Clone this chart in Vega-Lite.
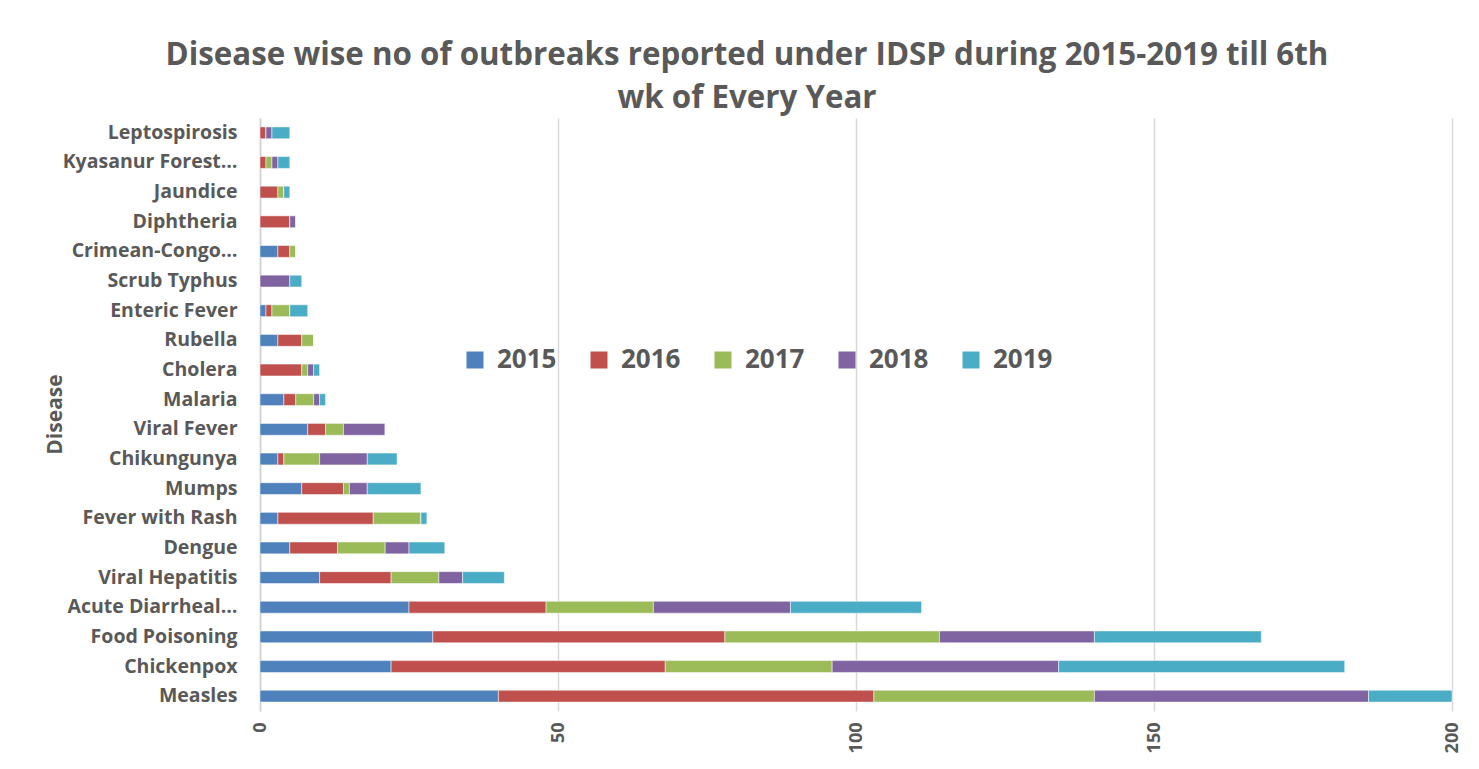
{
  "$schema": "https://vega.github.io/schema/vega-lite/v6.json",
  "width": 1192,
  "height": 593,
  "autosize": {"type": "none"},
  "padding": {"left": 260, "top": 118, "right": 27, "bottom": 58},
  "background": "white",
  "title": {
    "text": ["Disease wise no of outbreaks reported under IDSP during 2015-2019 till 6th", "wk of Every Year"],
    "font": "Open Sans",
    "fontSize": 31.3,
    "fontWeight": "bold",
    "color": "#595959",
    "anchor": "middle",
    "frame": "group",
    "dx": -109,
    "lineHeight": 43,
    "offset": 4
  },
  "data": {
    "values": [
      {"disease": "Leptospirosis", "year": "2015", "count": 0},
      {"disease": "Leptospirosis", "year": "2016", "count": 1},
      {"disease": "Leptospirosis", "year": "2017", "count": 0},
      {"disease": "Leptospirosis", "year": "2018", "count": 1},
      {"disease": "Leptospirosis", "year": "2019", "count": 3},
      {"disease": "Kyasanur Forest…", "year": "2015", "count": 0},
      {"disease": "Kyasanur Forest…", "year": "2016", "count": 1},
      {"disease": "Kyasanur Forest…", "year": "2017", "count": 1},
      {"disease": "Kyasanur Forest…", "year": "2018", "count": 1},
      {"disease": "Kyasanur Forest…", "year": "2019", "count": 2},
      {"disease": "Jaundice", "year": "2015", "count": 0},
      {"disease": "Jaundice", "year": "2016", "count": 3},
      {"disease": "Jaundice", "year": "2017", "count": 1},
      {"disease": "Jaundice", "year": "2018", "count": 0},
      {"disease": "Jaundice", "year": "2019", "count": 1},
      {"disease": "Diphtheria", "year": "2015", "count": 0},
      {"disease": "Diphtheria", "year": "2016", "count": 5},
      {"disease": "Diphtheria", "year": "2017", "count": 0},
      {"disease": "Diphtheria", "year": "2018", "count": 1},
      {"disease": "Diphtheria", "year": "2019", "count": 0},
      {"disease": "Crimean-Congo…", "year": "2015", "count": 3},
      {"disease": "Crimean-Congo…", "year": "2016", "count": 2},
      {"disease": "Crimean-Congo…", "year": "2017", "count": 1},
      {"disease": "Crimean-Congo…", "year": "2018", "count": 0},
      {"disease": "Crimean-Congo…", "year": "2019", "count": 0},
      {"disease": "Scrub Typhus", "year": "2015", "count": 0},
      {"disease": "Scrub Typhus", "year": "2016", "count": 0},
      {"disease": "Scrub Typhus", "year": "2017", "count": 0},
      {"disease": "Scrub Typhus", "year": "2018", "count": 5},
      {"disease": "Scrub Typhus", "year": "2019", "count": 2},
      {"disease": "Enteric Fever", "year": "2015", "count": 1},
      {"disease": "Enteric Fever", "year": "2016", "count": 1},
      {"disease": "Enteric Fever", "year": "2017", "count": 3},
      {"disease": "Enteric Fever", "year": "2018", "count": 0},
      {"disease": "Enteric Fever", "year": "2019", "count": 3},
      {"disease": "Rubella", "year": "2015", "count": 3},
      {"disease": "Rubella", "year": "2016", "count": 4},
      {"disease": "Rubella", "year": "2017", "count": 2},
      {"disease": "Rubella", "year": "2018", "count": 0},
      {"disease": "Rubella", "year": "2019", "count": 0},
      {"disease": "Cholera", "year": "2015", "count": 0},
      {"disease": "Cholera", "year": "2016", "count": 7},
      {"disease": "Cholera", "year": "2017", "count": 1},
      {"disease": "Cholera", "year": "2018", "count": 1},
      {"disease": "Cholera", "year": "2019", "count": 1},
      {"disease": "Malaria", "year": "2015", "count": 4},
      {"disease": "Malaria", "year": "2016", "count": 2},
      {"disease": "Malaria", "year": "2017", "count": 3},
      {"disease": "Malaria", "year": "2018", "count": 1},
      {"disease": "Malaria", "year": "2019", "count": 1},
      {"disease": "Viral Fever", "year": "2015", "count": 8},
      {"disease": "Viral Fever", "year": "2016", "count": 3},
      {"disease": "Viral Fever", "year": "2017", "count": 3},
      {"disease": "Viral Fever", "year": "2018", "count": 7},
      {"disease": "Viral Fever", "year": "2019", "count": 0},
      {"disease": "Chikungunya", "year": "2015", "count": 3},
      {"disease": "Chikungunya", "year": "2016", "count": 1},
      {"disease": "Chikungunya", "year": "2017", "count": 6},
      {"disease": "Chikungunya", "year": "2018", "count": 8},
      {"disease": "Chikungunya", "year": "2019", "count": 5},
      {"disease": "Mumps", "year": "2015", "count": 7},
      {"disease": "Mumps", "year": "2016", "count": 7},
      {"disease": "Mumps", "year": "2017", "count": 1},
      {"disease": "Mumps", "year": "2018", "count": 3},
      {"disease": "Mumps", "year": "2019", "count": 9},
      {"disease": "Fever with Rash", "year": "2015", "count": 3},
      {"disease": "Fever with Rash", "year": "2016", "count": 16},
      {"disease": "Fever with Rash", "year": "2017", "count": 8},
      {"disease": "Fever with Rash", "year": "2018", "count": 0},
      {"disease": "Fever with Rash", "year": "2019", "count": 1},
      {"disease": "Dengue", "year": "2015", "count": 5},
      {"disease": "Dengue", "year": "2016", "count": 8},
      {"disease": "Dengue", "year": "2017", "count": 8},
      {"disease": "Dengue", "year": "2018", "count": 4},
      {"disease": "Dengue", "year": "2019", "count": 6},
      {"disease": "Viral Hepatitis", "year": "2015", "count": 10},
      {"disease": "Viral Hepatitis", "year": "2016", "count": 12},
      {"disease": "Viral Hepatitis", "year": "2017", "count": 8},
      {"disease": "Viral Hepatitis", "year": "2018", "count": 4},
      {"disease": "Viral Hepatitis", "year": "2019", "count": 7},
      {"disease": "Acute Diarrheal…", "year": "2015", "count": 25},
      {"disease": "Acute Diarrheal…", "year": "2016", "count": 23},
      {"disease": "Acute Diarrheal…", "year": "2017", "count": 18},
      {"disease": "Acute Diarrheal…", "year": "2018", "count": 23},
      {"disease": "Acute Diarrheal…", "year": "2019", "count": 22},
      {"disease": "Food Poisoning", "year": "2015", "count": 29},
      {"disease": "Food Poisoning", "year": "2016", "count": 49},
      {"disease": "Food Poisoning", "year": "2017", "count": 36},
      {"disease": "Food Poisoning", "year": "2018", "count": 26},
      {"disease": "Food Poisoning", "year": "2019", "count": 28},
      {"disease": "Chickenpox", "year": "2015", "count": 22},
      {"disease": "Chickenpox", "year": "2016", "count": 46},
      {"disease": "Chickenpox", "year": "2017", "count": 28},
      {"disease": "Chickenpox", "year": "2018", "count": 38},
      {"disease": "Chickenpox", "year": "2019", "count": 48},
      {"disease": "Measles", "year": "2015", "count": 40},
      {"disease": "Measles", "year": "2016", "count": 63},
      {"disease": "Measles", "year": "2017", "count": 37},
      {"disease": "Measles", "year": "2018", "count": 46},
      {"disease": "Measles", "year": "2019", "count": 14}
    ]
  },
  "mark": {"type": "bar", "stroke": "white", "strokeWidth": 0.5},
  "encoding": {
    "y": {
      "field": "disease",
      "type": "nominal",
      "sort": null,
      "scale": {"paddingInner": 0.6, "paddingOuter": 0.3},
      "axis": {
        "title": "Disease",
        "titleFont": "Open Sans",
        "titleFontSize": 21,
        "titleFontWeight": "bold",
        "titleColor": "#595959",
        "titleX": -205,
        "titleY": 296,
        "titleAlign": "center",
        "titleBaseline": "middle",
        "titleAngle": -90,
        "labelFont": "Open Sans",
        "labelFontSize": 19.5,
        "labelFontWeight": "bold",
        "labelColor": "#595959",
        "labelPadding": 23,
        "ticks": false,
        "domainColor": "#d0d0d0",
        "domainWidth": 1.5,
        "grid": false
      }
    },
    "x": {
      "field": "count",
      "type": "quantitative",
      "stack": "zero",
      "scale": {"domain": [0, 200], "nice": false},
      "axis": {
        "title": null,
        "values": [0, 50, 100, 150, 200],
        "labelAngle": -90,
        "labelFont": "Open Sans",
        "labelFontSize": 18,
        "labelFontWeight": "bold",
        "labelColor": "#595959",
        "labelPadding": 11,
        "ticks": false,
        "domain": false,
        "grid": true,
        "gridColor": "#d9d9d9",
        "gridWidth": 1.5
      }
    },
    "color": {
      "field": "year",
      "type": "nominal",
      "scale": {
        "domain": ["2015", "2016", "2017", "2018", "2019"],
        "range": ["#4F81BD", "#C0504D", "#9BBB59", "#8064A2", "#4BACC6"]
      },
      "legend": {
        "title": null,
        "orient": "none",
        "direction": "horizontal",
        "columns": 5,
        "legendX": 202,
        "legendY": 229,
        "symbolType": "square",
        "symbolSize": 289,
        "symbolStrokeWidth": 0,
        "symbolOpacity": 1,
        "labelFont": "Open Sans",
        "labelFontSize": 26,
        "labelFontWeight": "bold",
        "labelColor": "#595959",
        "labelOffset": 9,
        "columnPadding": 29
      }
    },
    "order": {"field": "year", "type": "ordinal", "sort": "ascending"}
  },
  "config": {
    "view": {"stroke": null}
  }
}
